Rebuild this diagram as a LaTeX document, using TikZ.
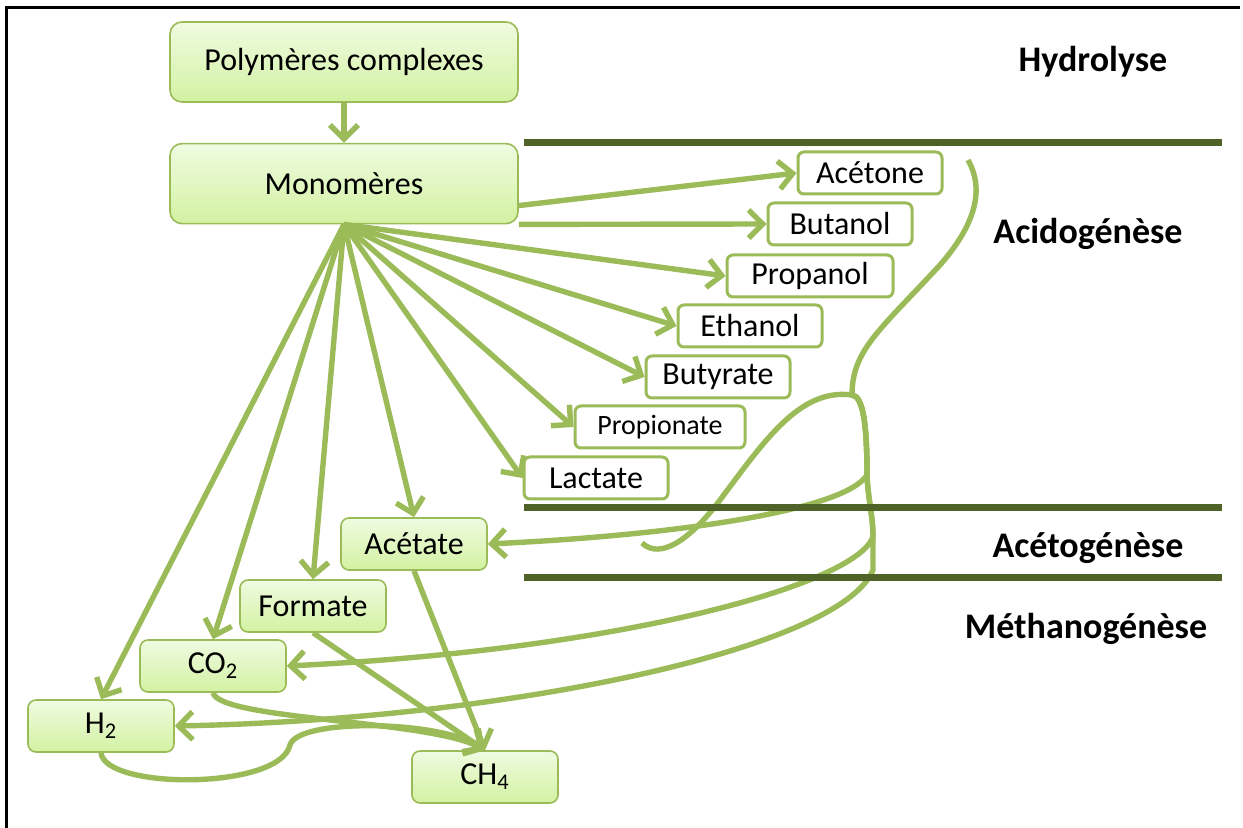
\documentclass[tikz,border=0pt]{standalone}
\usepackage{fontspec}
\setmainfont{Carlito}
\usepackage{xcolor}
\usepackage{tikz}
\usetikzlibrary{positioning,arrows.meta}

\definecolor{leaf}{HTML}{9BBB59}
\definecolor{bark}{HTML}{4F6228}
\definecolor{leaftop}{HTML}{F0FBE1}
\definecolor{leafbot}{HTML}{D2F2A2}

\begin{document}
\begin{tikzpicture}[
  x=0.5pt, y=-0.5pt,
  font=\fontsize{16}{19}\selectfont,
  stage/.style={draw=leaf, line width=0.8pt, rounded corners=4pt, top color=leaftop, bottom color=leafbot, minimum width=73pt, minimum height=26pt, inner sep=0pt},
  big/.style={stage, minimum width=174pt, minimum height=40pt, rounded corners=6pt},
  prod/.style={draw=leaf, line width=1.5pt, fill=white, rounded corners=3pt, minimum width=72pt, minimum height=21pt, inner sep=0pt},
  phase/.style={font=\fontsize{18}{21}\selectfont\bfseries},
  arr/.style={draw=leaf, line width=2.7pt, -{Straight Barb[length=7pt,width=14pt]}},
  link/.style={draw=leaf, line width=2.7pt},
  bar/.style={draw=bark, line width=3.5pt}]
  \useasboundingbox (0,0) rectangle (1243,828);
  \draw[line width=1.5pt] (6,828) -- (6,8) -- (1240,8);
  % chain of stages
  \node[big] (poly) at (344,62) {Polymères complexes};
  \node[big, below=20pt of poly] (mono) {Monomères};
  \node[prod] (acetone) at (870,173) {Acétone};
  \node[prod] (butanol) at (840,224) {Butanol};
  \node[prod, minimum width=83pt] (propanol) at (810,276) {Propanol};
  \node[prod] (ethanol) at (750,326) {Ethanol};
  \node[prod] (butyrate) at (718,377) {Butyrate};
  \node[prod, minimum width=85pt, font=\fontsize{14}{16}\selectfont] (propionate) at (660,427) {Propionate};
  \node[prod] (lactate) at (596,478) {Lactate};
  \node[stage] (acetate) at (414,544) {Acétate};
  \node[stage] (formate) at (313,606) {Formate};
  \node[stage] (co2) at (213,666) {CO\textsubscript{2}};
  \node[stage] (h2) at (101,726) {H\textsubscript{2}};
  \node[stage] (ch4) at (485,777) {CH\textsubscript{4}};
  % phases
  \node[phase] (hydro) at (1093,62) {Hydrolyse};
  \node[phase] (acido) at (1088,234) {Acidogénèse};
  \node[phase] (aceto) at (1088,548) {Acétogénèse};
  \node[phase] (metha) at (1086,629) {Méthanogénèse};
  % arrows
  \draw[arr] (poly) -- (mono);
  \draw[arr] ([yshift=-11pt]mono.east) -- (acetone.west);
  \draw[arr] (mono.south east) -- (butanol.west);
  \foreach \dst/\anc in {propanol/west, ethanol/west, butyrate/west, propionate/west, lactate/west, acetate/north, formate/north, co2/north, h2/north}
    \draw[arr] (mono.south) -- (\dst.\anc);
  % bracket from the alcohols
  \coordinate (brtop) at (968,160);
  \coordinate (fork) at (852,395);
  \coordinate (hook) at (642,543);
  \draw[link] (brtop) .. controls (985,190) and (975,225) .. (940,265) .. controls (880,330) and (852,350) .. (fork);
  \draw[link] (fork) .. controls (800,388) and (765,440) .. (720,500) .. controls (690,540) and (660,560) .. (hook);
  \draw[arr] (fork) .. controls (864,396) and (867,430) .. (867,475) .. controls (845,510) and (680,535) .. (acetate.east);
  \draw[arr] (fork) .. controls (864,396) and (867,430) .. (867,475) .. controls (868,500) and (873,515) .. (873,537) .. controls (855,585) and (620,650) .. (co2.east);
  \draw[arr] (fork) .. controls (864,396) and (867,430) .. (867,475) .. controls (868,500) and (873,515) .. (873,537) -- (873,570) .. controls (840,650) and (500,720) .. (h2.east);
  % into methane
  \draw[arr] (co2.south) .. controls (220,720) and (430,720) .. (ch4.north);
  \draw[arr] (h2.south) .. controls (105,790) and (280,790) .. (290,745) .. controls (298,718) and (440,720) .. (ch4.north);
  \draw[arr] (formate.south) -- (ch4.north);
  \draw[arr] (acetate.south) -- (ch4.north);
  % phase limits
  \draw[bar] (524,143) -- (1222,143);
  \draw[bar] (524,508) -- (1222,508);
  \draw[bar] (524,578) -- (1222,578);
\end{tikzpicture}
\end{document}
